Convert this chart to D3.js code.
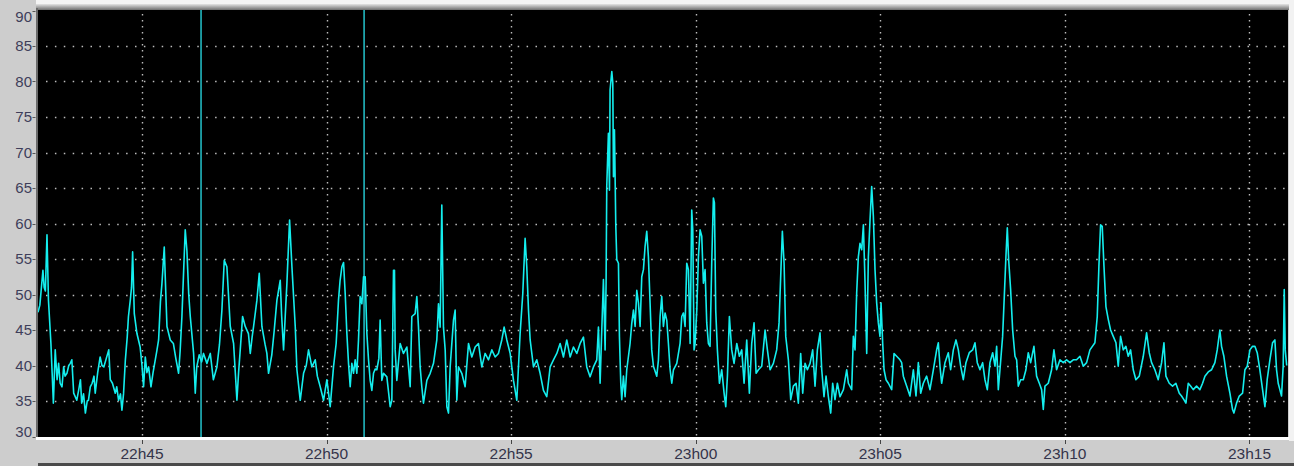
<!DOCTYPE html>
<html><head><meta charset="utf-8">
<script src="https://cdn.jsdelivr.net/npm/d3@7"></script>
<style>html,body{margin:0;padding:0;background:#cfcfcf;overflow:hidden}</style>
</head><body>
<svg id="c" width="1294" height="466"></svg>
<script>
// ---- data (time = seconds after 22:40:00, value) ----
const yTicks = [30, 35, 40, 45, 50, 55, 60, 65, 70, 75, 80, 85, 90];
const xTickLabels = ["22h45", "22h50", "22h55", "23h00", "23h05", "23h10", "23h15"];
const cursorSeconds = [396, 661];
const timeDomainSeconds = [131, 2161];

const segA = [[131,47.5],[134,48.5],[139,53.4],[141,51],[143,50.5],[145.6,58.4],[148,49.2],[152,43.1],[154,38.9],[156,34.7],[159,42.2],[162,38.0],[164.5,40.3],[167,37.5],[170,37.0],[172.7,39.8],[175,38.5],[178,38.9],[181,40.0],[183.5,40.3],[186,40.8],[189,36.1],[194,35.1],[197,36.5],[200,38.0],[202,34.7],[205,36.0],[208,33.3],[211,35],[213,35.1],[216,37],[219,37.5],[222,38.5],[224,36.1],[228,39],[232,41.2],[235,40],[238,39.8],[242,41],[246,42.2],[248.5,38.0],[252,37.5],[256.6,36.1],[259,37],[262,35.1],[265,36],[267.4,33.7],[270,36],[273,40.8],[276,44],[278,46.9],[281,49.2],[283,51],[284.8,56.0],[287.5,47.3],[291.8,44.5],[297,42.6],[300,40],[302.6,37.0],[305.4,41.2],[308,39],[310.8,39.8],[314.6,37.0],[318,39],[321.6,40.8],[324,42],[327,43.6],[330,49],[332.4,51.5],[336.2,56.7],[338,52],[340.6,45.5],[346,43.6],[351,43.1],[355,41],[359.5,38.9],[362,42],[364.9,46.9],[368,54],[370.3,59.1],[373,56.2],[376,50],[378.5,46.9],[383.9,41.7],[386.6,36.1],[389,39.8],[393,41.5],[397,40.5],[400,41.7],[405.5,40.3],[411,41.7],[416,38.0],[421.8,39.8],[426,43],[429.9,47.8],[433.7,54.8],[438,53.9],[443.5,45.5],[448.9,43.1],[451,40],[454.3,35.1],[457,39],[459.7,42.2],[463.5,46.9],[467.8,45.5],[473,44.5],[476,41.7],[479,44],[481.4,45.5],[486.8,49.2],[490.6,53.0],[494.9,45.5],[500,43],[503,41.7],[505.7,38.9],[511,41.5],[515,45],[519.3,49.2],[524.7,52.0],[527,47],[530.1,42.2],[532.8,46.9],[535.5,51.5],[539.9,60.5],[543.7,53.9],[549.1,45.5],[551.8,39.4],[557.2,35.1],[562.6,38.9],[567,40],[570.7,42.2],[576.1,39.8],[581.6,40.8],[585,38.5],[589.7,37.0],[595.1,35.1],[600.5,38.0],[605.9,34.2]];

const segB = [[611.3,39.8],[615.6,43.1],[619.4,49.2],[622,52],[624.9,53.9],[627.6,54.5],[630.3,50.1],[633,44.5],[635.7,40.3],[638.4,37.0],[641.1,40.3],[643.8,38.9],[646.5,40.8],[649.2,38.9],[651.9,43.6],[654.6,49.7],[657.4,48.7],[660.1,52.5],[662.8,52.5],[665.5,44.5],[668.2,40.8],[670.9,37.9],[673.6,36.5],[676.3,38.9],[679,39.5],[681.7,39.4],[685,41],[687.1,46.4],[689.8,37.9],[692.6,38.9],[698,38.4],[703.4,34.2],[706.1,35.1],[708.8,53.4],[710.4,53.4],[711.5,42.2],[714.2,37.9],[719.6,43.1],[725,41.7],[730.5,42.6],[733.2,39.8],[735.9,37.0],[738.6,46.9],[744,47.3],[746.7,49.7],[749.4,45.4],[752.1,39.8],[754.8,37.0],[757.5,34.7],[763,37.9],[768.4,38.9],[773.8,40.3],[779.2,43.6],[781.9,48.7],[784.6,45.4],[787.3,62.6],[790,45.4],[792.8,42.2],[795.5,34.2],[798.2,33.3],[800.9,39.8],[806.3,46.4],[809,47.8],[811.7,35.1],[814.4,39.8],[819.8,38.9],[825.2,37.0],[830.7,43.1],[836.1,41.2],[841.5,42.6],[846.9,43.1],[852.3,39.8],[857.7,41.7],[863.2,40.8],[868.6,42.2],[874,41.2],[879.4,41.7],[884.8,43.6],[888.6,45.4],[893,43.6],[898.4,41.7],[903.8,37.9],[909.2,35.1],[914.6,44.5],[918.9,50.1],[922.7,57.9],[925.4,53.9],[928.2,47.8],[930.9,43.6],[936.3,39.8],[941.7,40.8],[947.1,38.9],[952.5,36.5],[957.9,35.6],[963.4,39.8],[968.8,40.8],[974.2,41.7],[979.6,43.1],[985,41.2],[990.4,43.6],[995.9,41.2],[1001.3,42.6],[1006.7,41.7],[1012.1,43.1],[1017.5,44.0],[1022.9,39.8],[1028.3,38.4],[1033.8,39.8],[1039.2,40.8],[1041.9,45.4]];

const segC = [[1044.6,37.5],[1047.3,45.0],[1050,52.1],[1052.7,42.2],[1054.3,51.6],[1055.4,65.2],[1058.1,72.7],[1059.8,64.7],[1060.8,78.8],[1063.6,81.4],[1065.2,79.8],[1066.3,66.6],[1067.9,73.2],[1070.1,59.6],[1071.7,54.9],[1074.4,54.4],[1076,44.1],[1078.2,37.5],[1079.8,35.2],[1082.5,38.5],[1085.2,35.6],[1087.9,39.4],[1093.3,43.1],[1096,45.9],[1098.8,47.8],[1101.5,45.5],[1104.2,50.6],[1106.9,48.8],[1109.6,45.5],[1112.3,52.5],[1115,53.5],[1117.7,56.8],[1120.4,58.9],[1123.1,55.3],[1125.8,48.8],[1128.5,42.2],[1131.3,39.9],[1136.7,38.5],[1139.4,40.8],[1142.1,46.9],[1144.8,49.7],[1147.5,45.5],[1150.2,47.4],[1152.9,46.4],[1155.6,43.1],[1158.4,39.4],[1161.1,37.5],[1163.8,39.4],[1169.2,40.3],[1174.6,43.1],[1177.3,46.9],[1180,47.4],[1182.7,45.5],[1185.4,54.4],[1188.1,53.5],[1190.9,43.1],[1193.5,61.9],[1195.2,59.1],[1197.3,42.2],[1199,43.1],[1201.7,47.8],[1204.4,55.3],[1207.1,59.1],[1209.8,58.2],[1212.5,51.6],[1215.2,53.5],[1217.9,46.0],[1220.6,43.1],[1223.3,42.7],[1226,54.4],[1228.7,63.6],[1230.4,62.9],[1232.5,47.8],[1235.2,42.2],[1238.5,37.5],[1242.3,39.4],[1246.1,36.1],[1248.8,34.2],[1251.5,38.5],[1254.7,46.9],[1258.5,42.2],[1262.3,40.3],[1266.7,43.1],[1271,41.3],[1274.8,42.2],[1278.6,37.5],[1282.9,43.6],[1287.2,36.1],[1291,43.1],[1294.8,46.0],[1298.1,38.9],[1301.9,39.4],[1307.3,39.9],[1312.7,45.0],[1316.5,42.2],[1320.8,39.4],[1326.2,40.3],[1331.6,42.2],[1335.4,46.0],[1338.7,54.0],[1340.8,58.9],[1343.6,54.4],[1346.3,44.1],[1350.6,40.8],[1354.4,35.2],[1358.7,37.1],[1363.1,37.5],[1366.8,34.7],[1370.6,41.7],[1373.9,36.1],[1377.7,40.3],[1381.5,39.4],[1385.8,40.3],[1390.1,42.2],[1393.9,37.1],[1397.7,42.2],[1402,44.6],[1404.8,39.4],[1408.5,35.6],[1411.8,38.5],[1415.6,35.6],[1419.4,33.3],[1422.6,37.5],[1426.4,35.2],[1430.2,37.5],[1434.5,35.6],[1440,36.6],[1445.4,39.4],[1448.1,37.5],[1453.5,36.6],[1456.2,44.1],[1458.9,42.2],[1461.6,50.2],[1464.3,55.3],[1467,57.2],[1469.8,56.3],[1472.5,59.8],[1475.2,51.6],[1477.9,41.7],[1480.6,55.3],[1483.3,60.5],[1486,65.2],[1488.7,61.0],[1491.4,53.5],[1494.1,48.8],[1496.8,46.0],[1499.5,44.1],[1501.2,48.8],[1503.9,43.1],[1506.1,39.4],[1509.3,38.0],[1513.1,37.5],[1518.5,36.6],[1522.3,41.7],[1526.6,41.3],[1532,40.8]];

const segD = [[1534.7,40.4],[1537.4,38.5],[1542.8,37.1],[1548.2,35.7],[1553.7,39.4],[1558,35.7],[1561.8,40.4],[1565.6,36.1],[1569.9,37.5],[1575.3,38.5],[1580.7,36.6],[1586.2,39.4],[1591.6,42.2],[1594.3,43.2],[1597,39.9],[1599.7,37.5],[1605.1,40.4],[1610.5,41.8],[1614.3,39.4],[1618.7,42.2],[1623,43.6],[1626.8,42.2],[1630.6,39.9],[1634.9,38.0],[1639.2,40.4],[1644.6,41.8],[1650.1,42.2],[1653.9,43.2],[1657.6,40.4],[1662,39.4],[1666.3,40.4],[1670.1,38.0],[1673.9,36.6],[1678.2,40.4],[1682.6,41.8],[1686.4,39.9],[1689.1,42.7],[1691.8,36.6],[1694.5,39.4],[1698.8,44.1],[1701.5,49.7],[1704.2,55.4],[1706.4,59.4],[1708.6,54.9],[1711.8,50.7],[1715.1,45.0],[1718.9,41.3],[1721.6,40.8],[1724.3,37.1],[1728.1,38.0],[1732.4,38.0],[1736.7,39.4],[1740.5,41.8],[1744.3,40.4],[1749.7,42.7],[1754,38.5],[1758.4,37.5],[1762.2,36.6],[1764.9,33.8],[1767.6,37.1],[1773,37.5],[1778.4,39.4],[1782.2,42.2],[1786.5,39.4],[1792,40.8],[1797.4,40.4],[1802.8,40.8],[1808.2,40.4],[1813.6,40.8],[1819,40.8],[1824.5,41.3],[1829.9,39.9],[1835.3,40.4],[1840.7,42.2],[1848.8,43.2],[1852.6,46.9],[1855.3,54.0],[1858,59.8],[1860.7,59.6],[1863.5,54.0],[1866.7,48.3],[1870.5,46.5],[1874.3,45.0],[1878.6,44.1],[1883,43.2],[1886.7,39.9],[1890.5,44.1],[1894.9,42.2],[1899.2,42.7],[1903,41.3],[1906.8,42.2],[1911.1,39.4],[1915.4,38.0],[1920.9,38.5],[1927.4,41.3],[1932.8,44.6],[1937.1,41.8],[1940.9,40.4],[1946.3,39.4],[1951.7,38.0],[1957.2,40.4],[1961,43.2],[1964.2,38.5],[1969.6,37.5],[1975,37.1],[1980.4,37.5],[1985.9,36.1],[1989.6,35.7],[1993.4,35.2],[1996.7,34.7],[2000.5,37.5],[2004.3,37.1],[2008.6,36.6],[2014,37.1],[2019.4,36.6],[2023.8,37.5],[2027.6,38.5],[2033,39.1],[2038.4,39.4],[2043.8,40.4],[2047.6,42.2],[2051.9,45.0],[2054.6,42.7],[2058.4,41.3],[2062.8,38.5],[2068.2,36.1],[2072.5,33.8],[2074.7,33.3],[2079,34.7],[2083.4,35.7],[2088.8,36.1],[2092.6,39.4],[2096.4,39.9],[2100.7,42.2],[2105,42.7],[2108.8,42.7],[2112.6,41.8],[2116.9,39.4],[2121.3,36.6],[2125.1,34.2],[2128.8,38.0],[2133.2,40.8],[2137.5,43.2],[2141.3,43.6],[2144,39.4],[2146.7,37.5],[2149.4,36.6],[2152.1,35.7],[2154.8,39.9],[2156.5,50.7],[2158.1,42.2],[2160.5,40.0]];

// ---- rendering ----
const W = 1294, H = 466;
const plot = {x0: 38, x1: 1288, y0: 10, y1: 437};
const base = new Date(2000, 0, 1, 22, 40, 0);
const toDate = s => new Date(base.getTime() + s * 1000);
const labelToSeconds = l => { const [h, m] = l.split("h").map(Number); return ((h * 60 + m) - (22 * 60 + 40)) * 60; };

const x = d3.scaleTime().domain(timeDomainSeconds.map(toDate)).range([38, 1287]);
const y = d3.scaleLinear().domain([30, 90]).range([436.5, 10.5]);

const svg = d3.select("#c");
const defs = svg.append("defs");
const g1 = defs.append("linearGradient").attr("id", "topbar").attr("x1", 0).attr("y1", 0).attr("x2", 0).attr("y2", 1);
g1.append("stop").attr("offset", "0%").attr("stop-color", "#e4e4e4");
g1.append("stop").attr("offset", "100%").attr("stop-color", "#6e6e6e");
defs.append("clipPath").attr("id", "clip").append("rect")
  .attr("x", plot.x0).attr("y", plot.y0).attr("width", plot.x1 - plot.x0).attr("height", plot.y1 - plot.y0);

// background panels
svg.append("rect").attr("width", W).attr("height", H).attr("fill", "#cdcdcd");
svg.append("rect").attr("x", 36).attr("y", 0).attr("width", W - 36).attr("height", 5).attr("fill", "#f4f4f4");
svg.append("rect").attr("x", 36).attr("y", 4).attr("width", 1255).attr("height", 6).attr("fill", "url(#topbar)");
svg.append("rect").attr("x", 1289).attr("y", 0).attr("width", 5).attr("height", 441).attr("fill", "#f2f2f2");
svg.append("rect").attr("x", 36).attr("y", 8).attr("width", 2).attr("height", 430).attr("fill", "#6a6a6a");
svg.append("rect").attr("x", plot.x0).attr("y", plot.y0).attr("width", plot.x1 - plot.x0).attr("height", plot.y1 - plot.y0).attr("fill", "#000");
svg.append("rect").attr("x", 36).attr("y", 437).attr("width", 1253).attr("height", 3).attr("fill", "#ffffff");
svg.append("rect").attr("x", 38).attr("y", 463).attr("width", W - 38).attr("height", 3).attr("fill", "#4a4a4a");

const plotG = svg.append("g").attr("clip-path", "url(#clip)");

// horizontal dotted grid
plotG.selectAll("line.hg").data(yTicks.filter(v => v > 30 && v < 90)).join("line")
  .attr("class", "hg")
  .attr("x1", plot.x0 + 8).attr("x2", plot.x1)
  .attr("y1", d => Math.round(y(d)) + 0.5).attr("y2", d => Math.round(y(d)) + 0.5)
  .attr("stroke", "#bcbcbc").attr("stroke-width", 1.4).attr("stroke-dasharray", "1.5 7.4");

// vertical dotted grid
plotG.selectAll("line.vg").data(xTickLabels).join("line")
  .attr("class", "vg")
  .attr("x1", d => Math.round(x(toDate(labelToSeconds(d)))) + 0.5)
  .attr("x2", d => Math.round(x(toDate(labelToSeconds(d)))) + 0.5)
  .attr("y1", plot.y0 + 4).attr("y2", plot.y1)
  .attr("stroke", "#bcbcbc").attr("stroke-width", 1.4).attr("stroke-dasharray", "1.5 4.5");

// cursors
plotG.selectAll("line.cur").data(cursorSeconds).join("line")
  .attr("class", "cur")
  .attr("x1", d => x(toDate(d))).attr("x2", d => x(toDate(d)))
  .attr("y1", plot.y0).attr("y2", plot.y1)
  .attr("stroke", "#22b8c0").attr("stroke-width", 1.6);

// signal
const series = segA.concat(segB, segC, segD);
const line = d3.line().x(d => x(toDate(d[0]))).y(d => y(d[1]));
plotG.append("path").datum(series).attr("d", line)
  .attr("fill", "none").attr("stroke", "#14eeee").attr("stroke-width", 1.6)
  .attr("stroke-linejoin", "round");

// y axis labels + ticks
const fontFam = "'Liberation Sans', Arial, sans-serif";
svg.selectAll("text.yl").data(yTicks).join("text")
  .attr("class", "yl")
  .attr("x", 32).attr("y", d => Math.min(Math.max(y(d), 17), 432))
  .attr("dy", "0.36em").attr("text-anchor", "end")
  .attr("font-family", fontFam).attr("font-size", 15)
  .attr("fill", "#3e3e5a").text(d => d);
svg.selectAll("line.yt").data(yTicks).join("line")
  .attr("class", "yt")
  .attr("x1", 32.5).attr("x2", 35.5)
  .attr("y1", d => Math.round(y(d)) + 0.5).attr("y2", d => Math.round(y(d)) + 0.5)
  .attr("stroke", "#555").attr("stroke-width", 1);

// x axis labels + ticks
svg.selectAll("text.xl").data(xTickLabels).join("text")
  .attr("class", "xl")
  .attr("x", d => x(toDate(labelToSeconds(d)))).attr("y", 459)
  .attr("text-anchor", "middle")
  .attr("font-family", fontFam).attr("font-size", 15.5)
  .attr("fill", "#34344a").text(d => d);
svg.selectAll("line.xt").data(xTickLabels).join("line")
  .attr("class", "xt")
  .attr("x1", d => Math.round(x(toDate(labelToSeconds(d)))) + 0.5)
  .attr("x2", d => Math.round(x(toDate(labelToSeconds(d)))) + 0.5)
  .attr("y1", 440).attr("y2", 444)
  .attr("stroke", "#444").attr("stroke-width", 1);
</script>
</body></html>
